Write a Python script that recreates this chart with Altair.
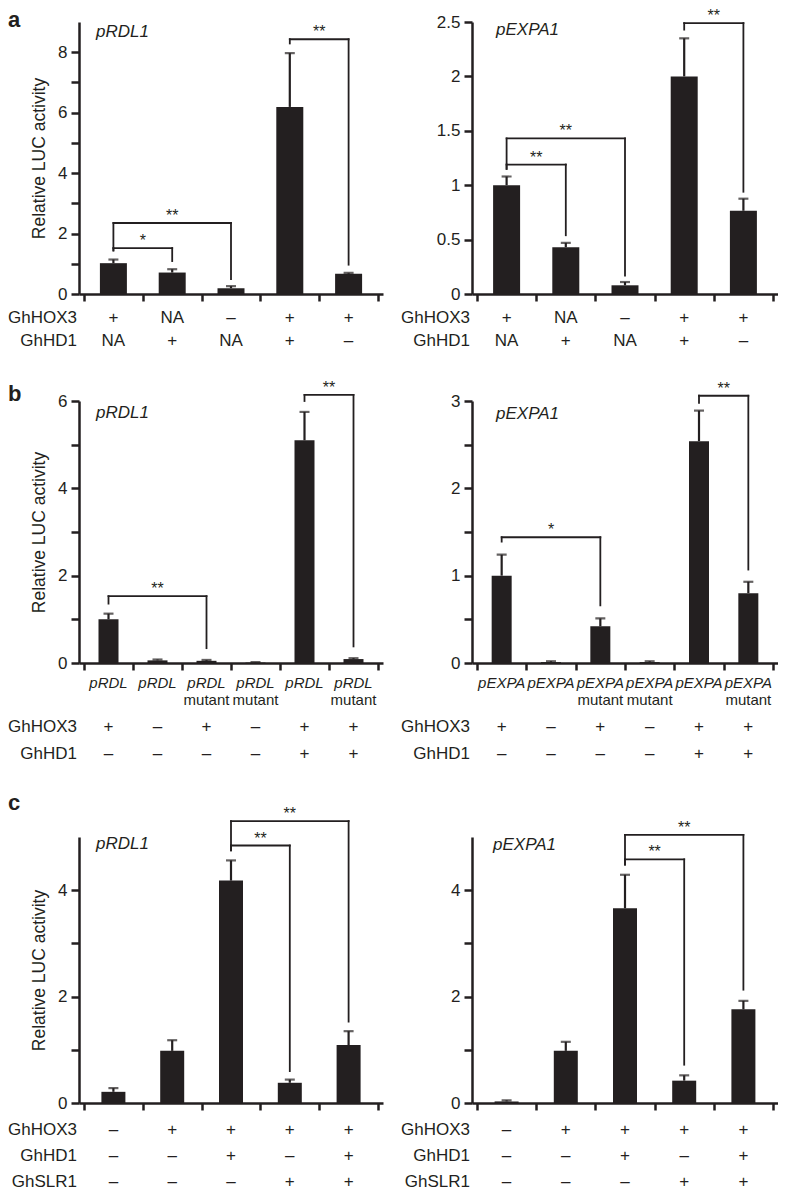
import altair as alt
import pandas as pd

FONT = "Liberation Sans"
INK = "#231f20"

# ---------------- data ----------------
# panel a, pRDL1
a1_mean = [1.02, 0.71, 0.19, 6.19, 0.67]
a1_err = [1.14, 0.82, 0.26, 7.97, 0.70]
a1_brackets = [(0, 1, 1.52, 1.44, 1.09, "*"), (0, 2, 2.35, 1.44, 0.49, "**"), (3, 4, 8.43, 8.29, 0.97, "**")]
# panel a, pEXPA1
a2_mean = [1.00, 0.43, 0.08, 2.00, 0.765]
a2_err = [1.08, 0.47, 0.11, 2.35, 0.876]
a2_brackets = [(0, 1, 1.19, 1.15, 0.54, "**"), (0, 2, 1.43, 1.15, 0.17, "**"), (3, 4, 2.49, 2.43, 0.94, "**")]
a_hox3 = ["+", "NA", "–", "+", "+"]
a_hd1 = ["NA", "+", "NA", "+", "–"]

# panel b, pRDL1
b1_mean = [1.00, 0.06, 0.05, 0.01, 5.10, 0.09]
b1_err = [1.13, 0.08, 0.07, 0.02, 5.75, 0.11]
b1_brackets = [(0, 2, 1.53, 1.36, 0.34, "**"), (4, 5, 6.14, 6.00, 0.38, "**")]
b1_prom = ["pRDL"] * 6
# panel b, pEXPA1
b2_mean = [1.00, 0.01, 0.42, 0.01, 2.54, 0.80]
b2_err = [1.24, 0.02, 0.51, 0.02, 2.89, 0.93]
b2_brackets = [(0, 2, 1.44, 1.39, 0.66, "*"), (4, 5, 3.06, 2.98, 1.07, "**")]
b2_prom = ["pEXPA"] * 6
b_mut = ["", "", "mutant", "mutant", "", "mutant"]
b_hox3 = ["+", "–", "+", "–", "+", "+"]
b_hd1 = ["–", "–", "–", "–", "+", "+"]

# panel c, pRDL1
c1_mean = [0.21, 0.98, 4.18, 0.38, 1.09]
c1_err = [0.28, 1.18, 4.56, 0.44, 1.35]
c1_brackets = [(2, 3, 4.84, 4.75, 0.60, "**"), (2, 4, 5.30, 4.75, 1.53, "**")]
# panel c, pEXPA1
c2_mean = [0.03, 0.98, 3.66, 0.42, 1.76]
c2_err = [0.05, 1.15, 4.29, 0.52, 1.92]
c2_brackets = [(2, 3, 4.58, 4.48, 0.72, "**"), (2, 4, 5.04, 4.48, 2.13, "**")]
c_hox3 = ["–", "+", "+", "+", "+"]
c_hd1 = ["–", "–", "+", "–", "+"]
c_slr1 = ["–", "–", "–", "+", "+"]

Y_TITLE = "Relative LUC activity"

FS_TAB = 17
FS_TICK = 17
FS_PROM = 15


def panel(means, errs, brackets, table, ymax, yticks, lab_step, title, title_pos,
          width, height, bar_w, ytitle=None, letter=None, letter_y=0):
    n = len(means)
    pos = [i + 0.5 for i in range(n)]
    df = pd.DataFrame({"pos": pos, "mean": means, "err": errs})
    xsc = alt.Scale(domain=[0, n], nice=False, zero=False)
    ysc = alt.Scale(domain=[0, ymax], nice=False, zero=True)
    xax = alt.Axis(values=list(range(n + 1)), labels=False, title=None, grid=False,
                   tickSize=7, tickWidth=2.5, tickColor=INK, domainColor=INK,
                   domainWidth=2.5)
    lexpr = (f"abs(datum.value / {lab_step} - round(datum.value / {lab_step})) < 1e-6"
             f" ? format(datum.value, '~g') : ''")
    yax = alt.Axis(values=yticks, labelExpr=lexpr, title=ytitle, grid=False,
                   tickSize=8, tickWidth=2.5, tickColor=INK, domainColor=INK,
                   domainWidth=2.5, labelFont=FONT, labelFontSize=FS_TICK, labelColor=INK,
                   labelPadding=4, labelFlush=False, titleFont=FONT, titleFontSize=17.5,
                   titleFontWeight="normal", titleColor=INK, titlePadding=9)

    def X(f):
        return alt.X(f"{f}:Q", scale=xsc, axis=xax)

    def Y(f):
        return alt.Y(f"{f}:Q", scale=ysc, axis=yax)

    base = alt.Chart(df)
    layers = [
        base.mark_bar(size=bar_w, color=INK).encode(x=X("pos"), y=Y("mean")),
        base.mark_rule(color=INK, strokeWidth=2.2).encode(x=X("pos"), y=Y("mean"), y2="err:Q"),
        base.mark_tick(color=INK, orient="horizontal", size=10, thickness=2.2).encode(
            x=X("pos"), y=Y("err")),
    ]

    bdf = pd.DataFrame(brackets, columns=["i", "j", "top", "lend", "rend", "lab"])
    bdf["x1"] = bdf["i"] + 0.5
    bdf["x2"] = bdf["j"] + 0.5
    bdf["xm"] = (bdf["x1"] + bdf["x2"]) / 2
    bb = alt.Chart(bdf)
    rule = dict(color=INK, strokeWidth=1.8, strokeCap="square")
    layers += [
        bb.mark_rule(**rule).encode(x=X("x1"), x2="x2:Q", y=Y("top")),
        bb.mark_rule(**rule).encode(x=X("x1"), y=Y("lend"), y2="top:Q"),
        bb.mark_rule(**rule).encode(x=X("x2"), y=Y("rend"), y2="top:Q"),
        bb.mark_text(font=FONT, fontSize=16, color=INK, baseline="alphabetic", dy=-2).encode(
            x=X("xm"), y=Y("top"), text="lab:N"),
    ]

    for name, vals, off, style, fs in table:
        tdf = pd.DataFrame({"pos": pos, "t": vals})
        layers.append(
            alt.Chart(tdf).mark_text(font=FONT, fontSize=fs, color=INK, baseline="middle",
                                     fontStyle=style).encode(
                x=X("pos"), y=alt.value(height + off), text="t:N"))
        if name:
            layers.append(
                alt.Chart(pd.DataFrame({"t": [name]})).mark_text(
                    font=FONT, fontSize=fs, color=INK, baseline="middle", align="right").encode(
                    x=alt.value(-2), y=alt.value(height + off), text="t:N"))

    layers.append(
        alt.Chart(pd.DataFrame({"t": [title]})).mark_text(
            font=FONT, fontSize=17, color=INK, fontStyle="italic", align="left",
            baseline="middle").encode(x=alt.value(title_pos[0]), y=alt.value(title_pos[1]),
                                      text="t:N"))
    if letter:
        layers.append(
            alt.Chart(pd.DataFrame({"t": [letter]})).mark_text(
                font=FONT, fontSize=22, fontWeight="bold", color=INK, align="left",
                baseline="alphabetic").encode(x=alt.value(-71), y=alt.value(letter_y),
                                              text="t:N"))
    return alt.layer(*layers).properties(width=width, height=height)


WL, WR = 304, 306
HA, HB, HC = 272, 262, 266

a_tab = [("GhHOX3", a_hox3, 24, "normal", FS_TAB), ("GhHD1", a_hd1, 47, "normal", FS_TAB)]
pa1 = panel(a1_mean, a1_err, a1_brackets, a_tab, 9, list(range(9)), 2, "pRDL1", (17, 10),
            WL, HA, 27, ytitle=Y_TITLE, letter="a", letter_y=5)
pa2 = panel(a2_mean, a2_err, a2_brackets, a_tab, 2.5, [0, 0.5, 1, 1.5, 2, 2.5], 0.5,
            "pEXPA1", (24, 8), WR, HA, 27)

b1_tab = [("", b1_prom, 20, "italic", FS_PROM), ("", b_mut, 37, "normal", FS_PROM),
          ("GhHOX3", b_hox3, 64, "normal", FS_TAB), ("GhHD1", b_hd1, 91, "normal", FS_TAB)]
b2_tab = [("", b2_prom, 20, "italic", FS_PROM), ("", b_mut, 37, "normal", FS_PROM),
          ("GhHOX3", b_hox3, 64, "normal", FS_TAB), ("GhHD1", b_hd1, 91, "normal", FS_TAB)]
pb1 = panel(b1_mean, b1_err, b1_brackets, b1_tab, 6, list(range(7)), 2, "pRDL1", (17, 12),
            WL, HB, 20, ytitle=Y_TITLE, letter="b", letter_y=0)
pb2 = panel(b2_mean, b2_err, b2_brackets, b2_tab, 3, [0, 0.5, 1, 1.5, 2, 2.5, 3], 1,
            "pEXPA1", (24, 13), WR, HB, 20)

c_tab = [("GhHOX3", c_hox3, 27, "normal", FS_TAB), ("GhHD1", c_hd1, 53, "normal", FS_TAB),
         ("GhSLR1", c_slr1, 79, "normal", FS_TAB)]
pc1 = panel(c1_mean, c1_err, c1_brackets, c_tab, 5, list(range(5)), 2, "pRDL1", (17, 7),
            WL, HC, 24, ytitle=Y_TITLE, letter="c", letter_y=-27)
pc2 = panel(c2_mean, c2_err, c2_brackets, c_tab, 5, list(range(5)), 2, "pEXPA1", (21, 8),
            WR, HC, 24)

chart = alt.vconcat(
    alt.hconcat(pa1, pa2, spacing=18),
    alt.hconcat(pb1, pb2, spacing=18),
    alt.hconcat(pc1, pc2, spacing=18),
    spacing=30,
).properties(padding=0).configure_view(stroke=None)

chart.save("out.html", embed_options={"renderer": "svg", "actions": False})
